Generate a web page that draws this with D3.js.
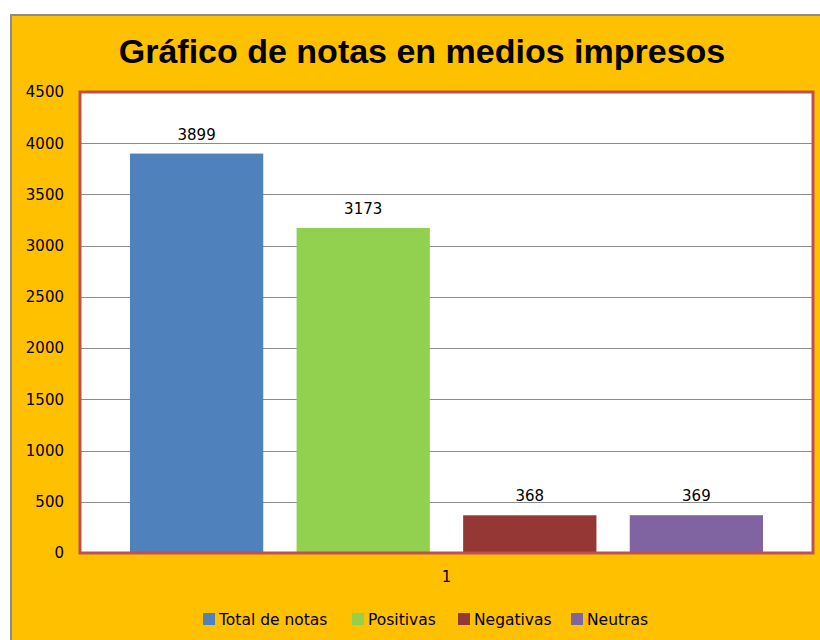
<!DOCTYPE html>
<html>
<head>
<meta charset="utf-8">
<script src="https://cdn.jsdelivr.net/npm/d3@7"></script>
<style>
	body { margin: 0; background: #fff; }
	svg { display: block; }
</style>
</head>
<body>
<svg id="chart" width="820" height="640"></svg>
<script>
var categories = ["1"];
var seriesNames = ["Total de notas", "Positivas", "Negativas", "Neutras"];
var seriesValues = [3899, 3173, 368, 369];
var seriesColors = ["#4f81bd", "#92d050", "#953735", "#8064a2"];
var yTicks = [0, 500, 1000, 1500, 2000, 2500, 3000, 3500, 4000, 4500];

var svg = d3.select("#chart");
var plotLeft = 80, plotRight = 813, plotTop = 92, plotBottom = 553;
var bodyFont = "'DejaVu Sans', sans-serif";

// Background frame
svg.append("rect")
	.attr("x", 11).attr("y", 15)
	.attr("width", 830).attr("height", 640)
	.attr("fill", "#ffc000")
	.attr("stroke", "#8c8c8c")
	.attr("stroke-width", 2);

// Title
svg.append("text")
	.attr("x", 422).attr("y", 63)
	.attr("text-anchor", "middle")
	.attr("font-family", "Arial, 'Liberation Sans', sans-serif")
	.attr("font-weight", "bold")
	.attr("font-size", 34)
	.attr("fill", "#000")
	.text("Gráfico de notas en medios impresos");

var y = d3.scaleLinear().domain([0, 4500]).range([plotBottom, plotTop]);
var x = d3.scaleBand().domain(seriesNames)
	.range([plotLeft, plotRight])
	.paddingInner(0.2).paddingOuter(0.3);

// Plot area
svg.append("rect")
	.attr("x", plotLeft).attr("y", plotTop)
	.attr("width", plotRight - plotLeft).attr("height", plotBottom - plotTop)
	.attr("fill", "#fff");

// Gridlines
svg.append("g").selectAll("line")
	.data(yTicks.filter(function (d) { return d > 0 && d < 4500; }))
	.enter().append("line")
	.attr("x1", plotLeft).attr("x2", plotRight)
	.attr("y1", function (d) { return Math.round(y(d)) + 0.5; })
	.attr("y2", function (d) { return Math.round(y(d)) + 0.5; })
	.attr("stroke", "#8c8c8c").attr("stroke-width", 1);

// Y axis labels
var yAxis = d3.axisLeft(y).tickValues(yTicks).tickFormat(d3.format("d"))
	.tickSize(0).tickPadding(16);
var yg = svg.append("g").attr("transform", "translate(" + plotLeft + ",0)").call(yAxis);
yg.select(".domain").remove();
yg.selectAll("text")
	.attr("font-family", bodyFont).attr("font-size", 15).attr("fill", "#000");

// Bars
svg.append("g").selectAll("rect")
	.data(seriesValues)
	.enter().append("rect")
	.attr("x", function (d, i) { return x(seriesNames[i]); })
	.attr("y", function (d) { return y(d); })
	.attr("width", x.bandwidth())
	.attr("height", function (d) { return plotBottom - y(d); })
	.attr("fill", function (d, i) { return seriesColors[i]; });

// Value labels
svg.append("g").selectAll("text")
	.data(seriesValues)
	.enter().append("text")
	.attr("x", function (d, i) { return x(seriesNames[i]) + x.bandwidth() / 2; })
	.attr("y", function (d) { return y(d) - 14; })
	.attr("text-anchor", "middle")
	.attr("font-family", bodyFont).attr("font-size", 15).attr("fill", "#000")
	.text(function (d) { return d; });

// Plot border
svg.append("rect")
	.attr("x", plotLeft).attr("y", plotTop)
	.attr("width", plotRight - plotLeft).attr("height", plotBottom - plotTop)
	.attr("fill", "none")
	.attr("stroke", "#c0504d").attr("stroke-width", 3);

// Category label
var xCat = d3.scaleBand().domain(categories).range([plotLeft, plotRight]);
var xAxis = d3.axisBottom(xCat).tickSize(0).tickPadding(18);
var xg = svg.append("g").attr("transform", "translate(0," + plotBottom + ")").call(xAxis);
xg.select(".domain").remove();
xg.selectAll("text")
	.attr("font-family", bodyFont).attr("font-size", 15).attr("fill", "#000");

// Legend
var legendX = [203, 352, 458, 571];
var legend = svg.append("g").selectAll("g")
	.data(seriesNames)
	.enter().append("g")
	.attr("transform", function (d, i) { return "translate(" + legendX[i] + ",613)"; });
legend.append("rect")
	.attr("width", 12).attr("height", 12)
	.attr("fill", function (d, i) { return seriesColors[i]; });
legend.append("text")
	.attr("x", 16).attr("y", 12)
	.attr("font-family", bodyFont).attr("font-size", 15.5).attr("fill", "#000")
	.text(function (d) { return d; });
</script>
</body>
</html>
